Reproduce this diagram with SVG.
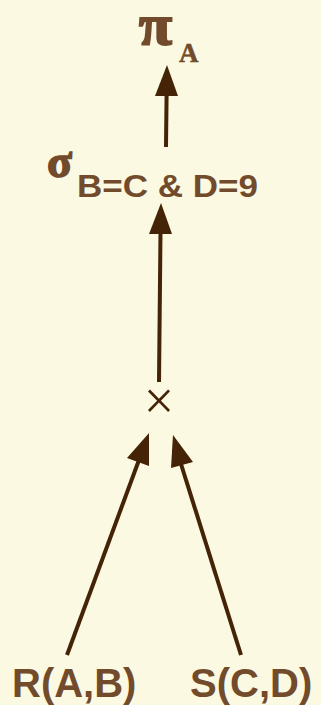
<svg xmlns="http://www.w3.org/2000/svg" width="321" height="705" viewBox="0 0 321 705">
<style>
.t{fill:#714B2B;font-family:"Liberation Sans",Arial,sans-serif;font-weight:bold}
.g{fill:#714B2B;stroke:#714B2B;font-family:"Liberation Serif","DejaVu Serif",serif;font-weight:bold}
.e{stroke:#452306;stroke-width:4;fill:none}
.h{fill:#452306}
</style>
<rect width="321" height="705" fill="#FBF9E2"/>
<g id="pi">
<text class="g" x="139" y="44" font-size="58" stroke-width="2" textLength="33" lengthAdjust="spacingAndGlyphs">π</text>
<text class="g" x="179" y="62" font-size="27" stroke-width="0.5">A</text>
</g>
<g id="sigma">
<text class="g" x="47" y="177" font-size="46" stroke-width="1.5">σ</text>
<text class="t" x="77" y="197" font-size="31" textLength="181" lengthAdjust="spacingAndGlyphs">B=C &amp; D=9</text>
</g>
<g id="product">
<text x="159" y="419" font-size="54" text-anchor="middle" fill="#452306" font-family="Liberation Serif,serif">×</text>
</g>
<g id="R">
<text class="t" x="12" y="697" font-size="40">R(A,B)</text>
</g>
<g id="S">
<text class="t" x="190" y="697" font-size="40">S(C,D)</text>
</g>
<g id="connectors">
<line class="e" x1="166" y1="147" x2="166.6" y2="94"/>
<polygon class="h" points="167,65 178,96 155,96"/>
<line class="e" x1="159" y1="382" x2="160.5" y2="232"/>
<polygon class="h" points="161,203 172,234 149,234"/>
<line class="e" x1="67" y1="655" x2="139" y2="460"/>
<polygon class="h" points="149,433 149,466 127,458"/>
<line class="e" x1="241" y1="655" x2="181" y2="464"/>
<polygon class="h" points="173,435 193,462 171,468"/>
</g>
</svg>
